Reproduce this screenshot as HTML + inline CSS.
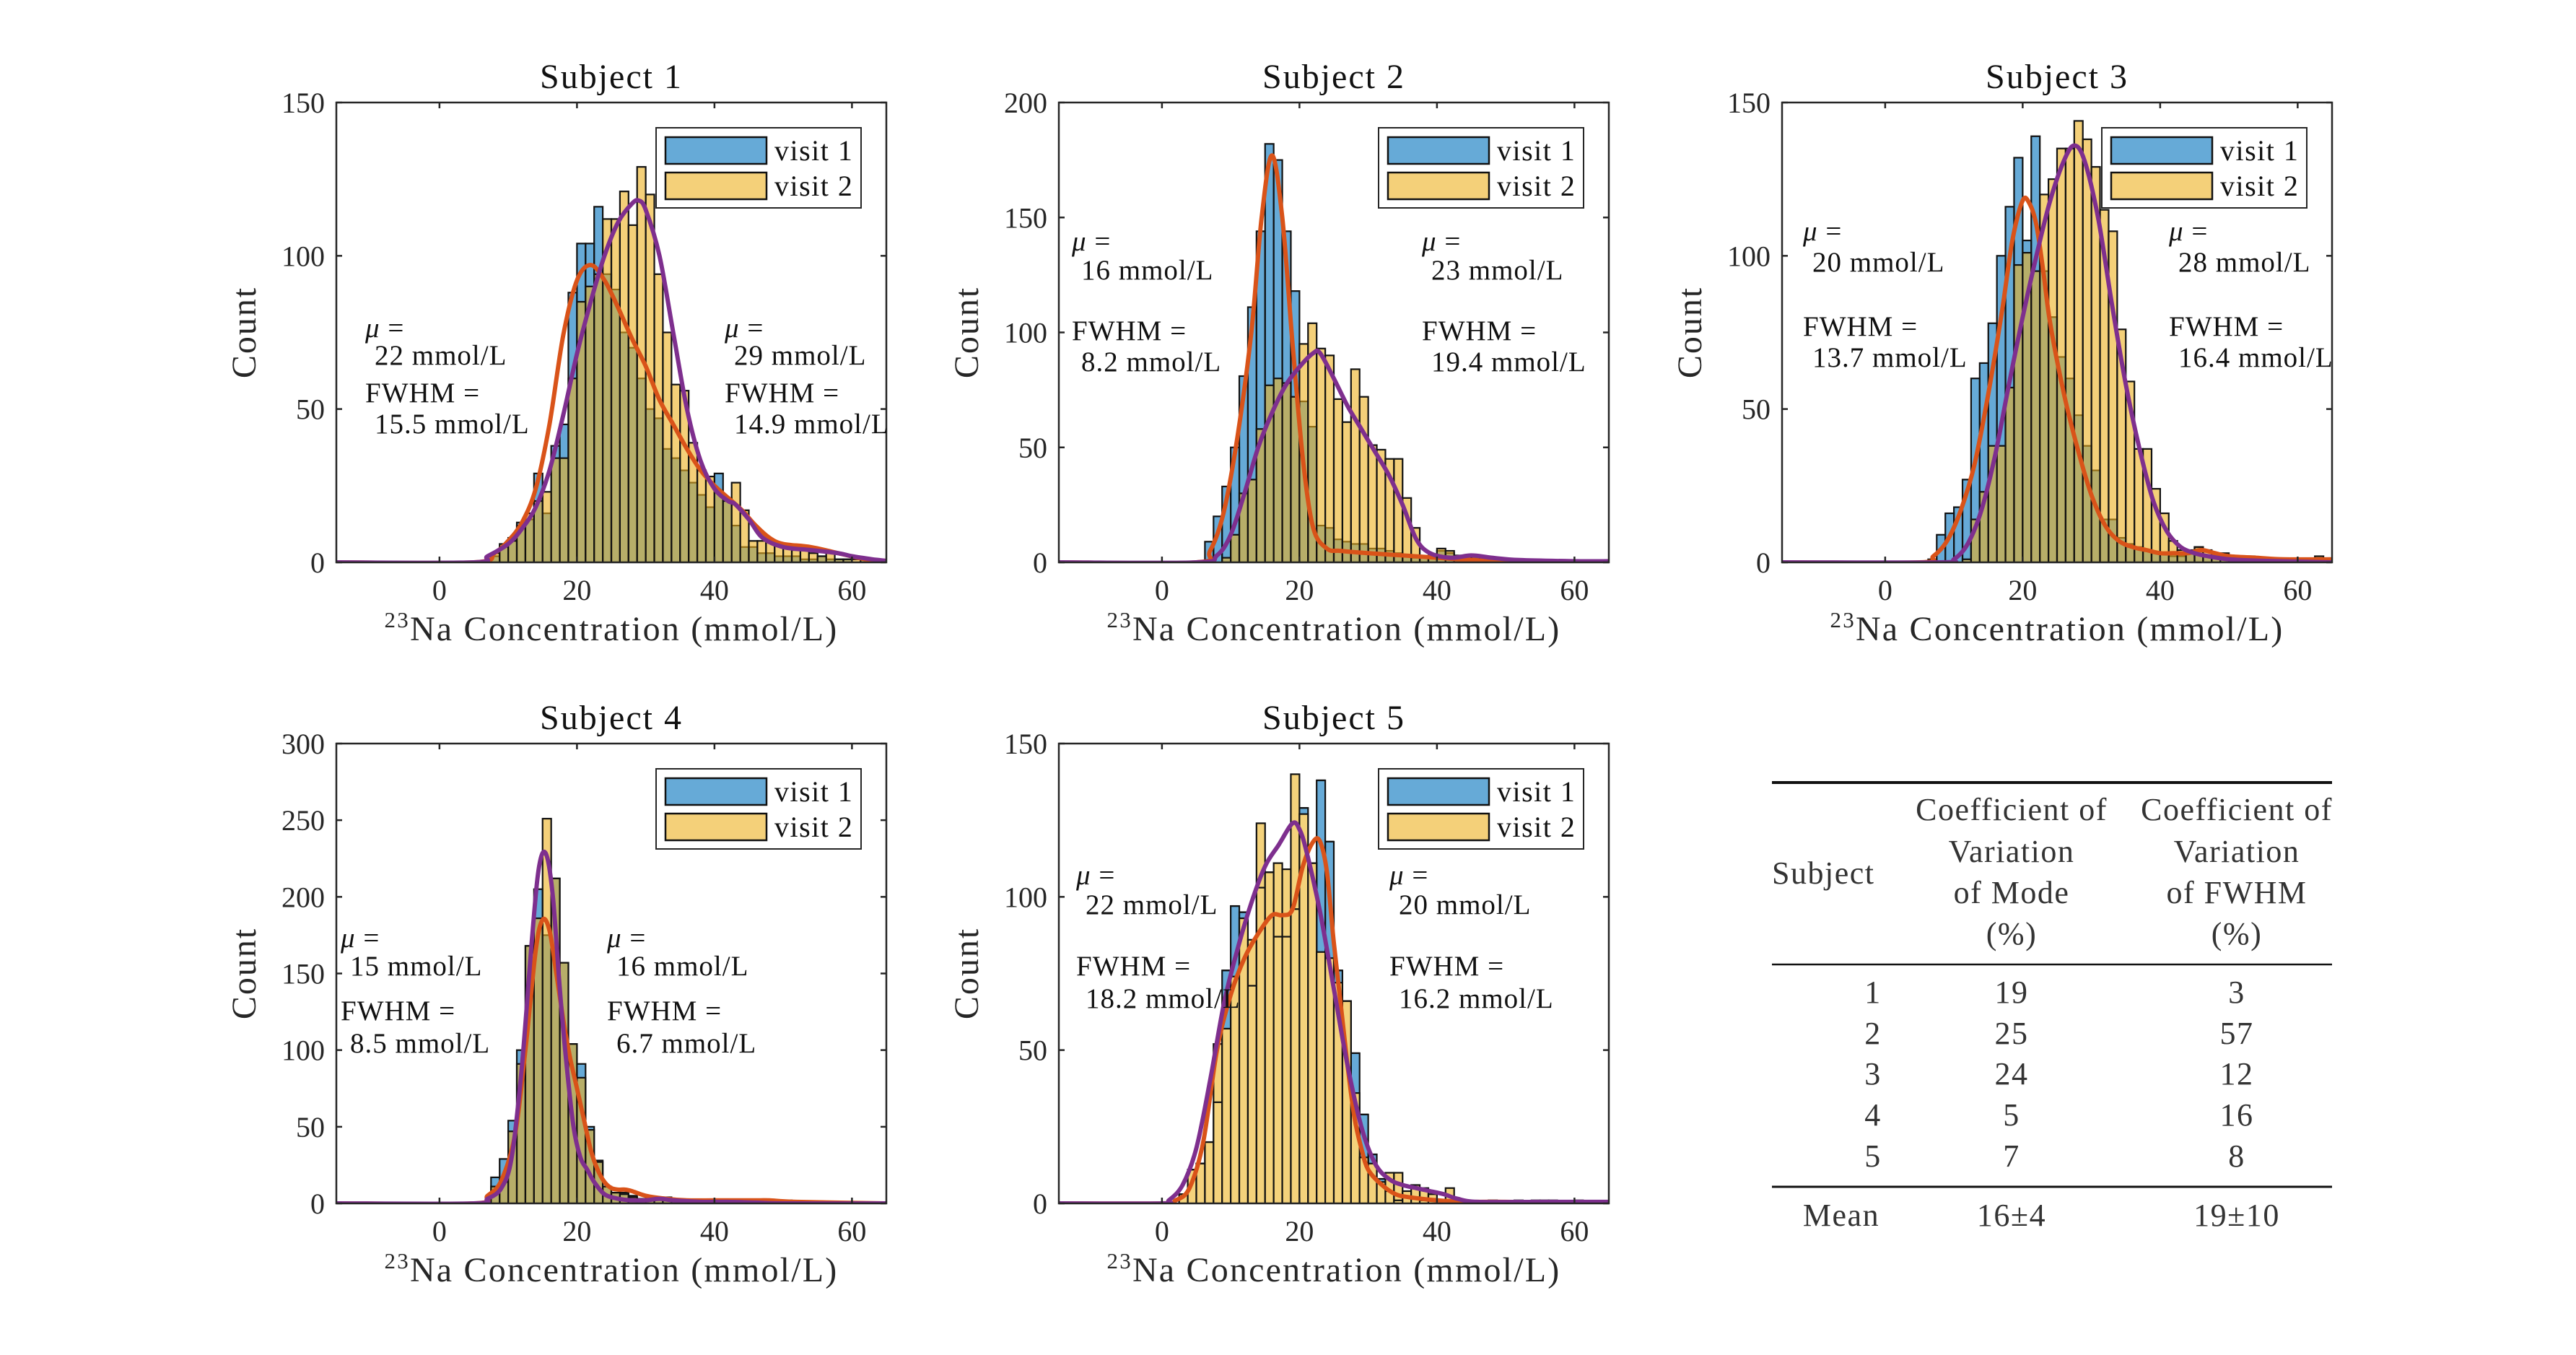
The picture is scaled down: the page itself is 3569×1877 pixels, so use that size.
<!DOCTYPE html>
<html><head><meta charset="utf-8"><style>
html,body{margin:0;padding:0;background:#fff;}
svg{display:block;font-family:"Liberation Serif",serif;}
</style></head><body>
<svg id="fig" width="3569" height="1877" viewBox="0 0 3569 1877" xmlns="http://www.w3.org/2000/svg">
<rect width="3569" height="1877" fill="#fff"/>
<g id="table" fill="#333" font-size="44" letter-spacing="1.5">
<line x1="2455" y1="1084" x2="3231" y2="1084" stroke="#111" stroke-width="4"/>
<line x1="2455" y1="1336" x2="3231" y2="1336" stroke="#111" stroke-width="2.5"/>
<line x1="2455" y1="1644" x2="3231" y2="1644" stroke="#111" stroke-width="3"/>
<text x="2455" y="1224">Subject</text>
<g text-anchor="middle">
<text x="2787" y="1136">Coefficient of</text><text x="2787" y="1194">Variation</text><text x="2787" y="1251">of Mode</text><text x="2787" y="1308">(%)</text></g>
<g text-anchor="middle">
<text x="3099" y="1136">Coefficient of</text><text x="3099" y="1194">Variation</text><text x="3099" y="1251">of FWHM</text><text x="3099" y="1308">(%)</text></g>
<g text-anchor="middle">
<text x="2595" y="1389">1</text><text x="2787" y="1389">19</text><text x="3099" y="1389">3</text>
<text x="2595" y="1446">2</text><text x="2787" y="1446">25</text><text x="3099" y="1446">57</text>
<text x="2595" y="1502">3</text><text x="2787" y="1502">24</text><text x="3099" y="1502">12</text>
<text x="2595" y="1559">4</text><text x="2787" y="1559">5</text><text x="3099" y="1559">16</text>
<text x="2595" y="1616">5</text><text x="2787" y="1616">7</text><text x="3099" y="1616">8</text>
<text x="2551" y="1698">Mean</text><text x="2787" y="1698">16±4</text><text x="3099" y="1698">19±10</text>
</g>
</g>
</svg>
<script>
const binWidth = 1.25;
const s1Visit1Start = 7.5;
const s1Visit1 = [2,5,8,13,14,29,16,38,45,88,104,104,116,94,89,75,70,60,50,47,37,34,30,26,22,18,29,21,12,5,5,3,3,2,2,2,1,1,2,1,1,1,0,1];
const s1Visit2Start = 7.5;
const s1Visit2 = [3,6,7,12,16,20,23,34,34,60,85,90,94,112,112,121,110,129,120,94,75,58,56,39,30,28,23,20,26,17,7,7,7,6,5,4,4,3,2,3,1,1,1,1];
const s2Visit1Start = 6.25;
const s2Visit1 = [9,20,33,50,81,111,144,182,175,144,118,70,59,16,15,10,9,8,8,6,6,5,4,3,2,2,2,5,4,2,2,2,1,1,1,1,1,1,1,1,1,1,1,1,1,1];
const s2Visit2Start = 8.75;
const s2Visit2 = [2,12,30,36,58,77,80,78,72,95,104,93,90,71,61,84,72,51,49,45,45,28,15,2,3,6,5,3,3,3,2,2,1,1,1,1,1,1,1,1,1,1,1];
const s3Visit1Start = 6.25;
const s3Visit1 = [1,9,16,18,27,60,65,78,100,116,132,105,139,95,80,67,60,48,38,30,14,14,8,6,5,4,3,3,2,2,4,5,2,2,1,1,1,1,1,1,1,1];
const s3Visit2Start = 11.25;
const s3Visit2 = [1,14,23,38,38,57,97,101,95,120,125,135,135,144,138,129,115,108,76,59,37,37,24,16,7,4,3,5,4,3,3,2,2,2,1,1,1,1,1,1,1,2,1];
const s4Visit1Start = 7.5;
const s4Visit1 = [17,29,54,100,168,205,175,212,157,104,91,50,28,11,7,7,5,3,3,3,2,2,2,2,1,1,1,1,1,1,1,1,1,2,2,1,1,1,1,1];
const s4Visit2Start = 7.5;
const s4Visit2 = [11,14,47,91,168,186,251,212,157,104,82,48,27,11,7,6,4,3,3,4,4,3,2,2,2,2,1,1,1,1,1,1,1,1,1,1,1,1,1];
const s5Visit1Start = 2.5;
const s5Visit1 = [3,11,13,20,33,76,97,95,71,103,108,87,87,96,129,111,138,118,76,66,49,29,16,8,4,1,2,2,1,1,1,1,0,1];
const s5Visit2Start = 2.5;
const s5Visit2 = [3,11,13,20,52,57,74,93,86,124,108,111,109,140,127,111,82,80,72,66,36,15,13,7,10,10,4,6,5,3,1,5,1,0,0,0,1,0,0,1,0,1,1,1,0,0,1];

const s1Fit1X = [-15,5,8,10,12,14,16,18,20,22,24,26,28,30,32,34,36,38,40,42,44,46,48,50,54,58,62,65];
const s1Fit1Y = [0,0,3,7,13,24,45,74,92,97,92,83,73,64,53,45,37,30,25,21,17,12,8,6,5,3,1,0.5];
const s1Fit2X = [-15,5,7,10,12,14,16,18,20,22,24,26,28,29,30,32,34,36,38,40,42,43,45,47,50,54,58,60,63,65];
const s1Fit2Y = [0,0,2,6,11,18,30,48,68,85,100,111,117,118,115,100,75,50,33,24,20,19,14,8,5,4,3,2,1,0.5];
const s2Fit1X = [-15,5,7,9,11,13,14.5,16,17.5,19,20.5,22,24,26,30,35,40,45,50,65];
const s2Fit1Y = [0,0,5,22,55,100,150,177,150,95,45,15,6,5,4,3,2,1,0.5,0];
const s2Fit2X = [-15,5,8,10,12,14,16,18,20,22,23,25,27,29,31,33,35,37,39,42,45,48,52,60,65];
const s2Fit2Y = [0,0,3,12,30,50,65,77,85,91,91,80,68,58,48,38,25,10,4,2,3,2,1,0.5,0.5];
const s3Fit1X = [-15,5,7,9,11,13,15,17,18.5,20,21,22,23,24,26,28,30,32,34,36,38,40,42,44,46,48,50,54,58,65];
const s3Fit1Y = [0,0,2,7,17,32,55,82,105,118,117,110,95,78,55,37,22,12,7,5,4,3,3,3,4,3,2,1.5,1,1];
const s3Fit2X = [-15,8,10,12,14,16,18,20,22,24,26,27.5,29,31,33,35,37,39,41,43,45,47,50,55,65];
const s3Fit2Y = [0,0,1,6,17,35,58,80,100,118,131,136,131,112,84,58,37,20,10,5,3,2,1,0.5,0];
const s4Fit1X = [-15,5,7,9,11,12.5,14,15,16,17,18,19,20,21,22,23,24,25,26,27,28,30,33,36,40,43,46,48,52,65];
const s4Fit1Y = [0,0,5,15,45,100,165,185,178,150,120,95,75,55,35,22,14,10,9,9,8,5,3,2,2,2,2,2,1,0];
const s4Fit2X = [-15,5,7,9,10.5,12,13.5,14.5,15.5,16.5,17.5,18.5,19.5,20.5,21.5,22.5,24,26,28,30,32,34,38,42,46,50,65];
const s4Fit2Y = [0,0,3,10,30,90,175,220,228,200,140,90,50,30,22,14,6,3,2,2,3,2,1,1,0.5,0,0];
const s5Fit1X = [-15,0,2,4,6,8,10,12,14,16,17.5,19,20.5,22,23,24,25,26,27,28,29,30,32,34,36,40,44,50,65];
const s5Fit1Y = [0,0,1,5,20,50,68,80,88,94,94,96,110,118,118,108,85,65,45,28,18,11,6,3,2,1,0.5,0.5,0];
const s5Fit2X = [-15,0,1,3,5,7,9,11,13,15,17,19,20,21,23,25,27,29,31,33,35,37,39,41,43,46,55,65];
const s5Fit2Y = [0,0,1,6,18,40,65,83,98,110,117,124,122,115,95,70,45,25,13,8,6,5,4,3,1.5,0.5,0.5,0.5];

const xTicks = [0,20,40,60];
const yTicks150 = [0,50,100,150];
const yTicks200 = [0,50,100,150,200];
const yTicks300 = [0,50,100,150,200,250,300];

const s1Notes = ["22 mmol/L","15.5 mmol/L","29 mmol/L","14.9 mmol/L"];
const s2Notes = ["16 mmol/L","8.2 mmol/L","23 mmol/L","19.4 mmol/L"];
const s3Notes = ["20 mmol/L","13.7 mmol/L","28 mmol/L","16.4 mmol/L"];
const s4Notes = ["15 mmol/L","8.5 mmol/L","16 mmol/L","6.7 mmol/L"];
const s5Notes = ["22 mmol/L","18.2 mmol/L","20 mmol/L","16.2 mmol/L"];

const panels = [
 {n:1,L:466,T:142,ymax:150,yt:yTicks150,v1:s1Visit1,v1s:s1Visit1Start,v2:s1Visit2,v2s:s1Visit2Start,f1x:s1Fit1X,f1y:s1Fit1Y,f2x:s1Fit2X,f2y:s1Fit2Y,notes:s1Notes,nl:40,nr:538,nb:[325,363,415,458],opaque:false},
 {n:2,L:1467,T:142,ymax:200,yt:yTicks200,v1:s2Visit1,v1s:s2Visit1Start,v2:s2Visit2,v2s:s2Visit2Start,f1x:s2Fit1X,f1y:s2Fit1Y,f2x:s2Fit2X,f2y:s2Fit2Y,notes:s2Notes,nl:18,nr:503,nb:[205,245,329,372],opaque:false},
 {n:3,L:2469,T:142,ymax:150,yt:yTicks150,v1:s3Visit1,v1s:s3Visit1Start,v2:s3Visit2,v2s:s3Visit2Start,f1x:s3Fit1X,f1y:s3Fit1Y,f2x:s3Fit2X,f2y:s3Fit2Y,notes:s3Notes,nl:29,nr:536,nb:[191,234,323,366],opaque:false},
 {n:4,L:466,T:1030,ymax:300,yt:yTicks300,v1:s4Visit1,v1s:s4Visit1Start,v2:s4Visit2,v2s:s4Visit2Start,f1x:s4Fit1X,f1y:s4Fit1Y,f2x:s4Fit2X,f2y:s4Fit2Y,notes:s4Notes,nl:6,nr:375,nb:[282,321,383,428],opaque:false},
 {n:5,L:1467,T:1030,ymax:150,yt:yTicks150,v1:s5Visit1,v1s:s5Visit1Start,v2:s5Visit2,v2s:s5Visit2Start,f1x:s5Fit1X,f1y:s5Fit1Y,f2x:s5Fit2X,f2y:s5Fit2Y,notes:s5Notes,nl:24,nr:458,nb:[195,236,321,366],opaque:true}
];
const W = 762, H = 637, XMIN = -15, XMAX = 65;
const NS = "http://www.w3.org/2000/svg";
const svg = document.getElementById('fig');
function mk(tag, attrs, parent){
  const e = document.createElementNS(NS, tag);
  for (const k in attrs) e.setAttribute(k, attrs[k]);
  parent.appendChild(e); return e;
}
function smoothPath(px, py){
  let d = "M" + px[0].toFixed(1) + "," + py[0].toFixed(1);
  for (let i = 0; i < px.length - 1; i++){
    const x0 = px[Math.max(0,i-1)], y0 = py[Math.max(0,i-1)];
    const x1 = px[i], y1 = py[i], x2 = px[i+1], y2 = py[i+1];
    const x3 = px[Math.min(px.length-1,i+2)], y3 = py[Math.min(px.length-1,i+2)];
    const c1x = x1 + (x2-x0)/6, c1y = y1 + (y2-y0)/6;
    const c2x = x2 - (x3-x1)/6, c2y = y2 - (y3-y1)/6;
    d += " C" + c1x.toFixed(1)+","+c1y.toFixed(1)+" "+c2x.toFixed(1)+","+c2y.toFixed(1)+" "+x2.toFixed(1)+","+y2.toFixed(1);
  }
  return d;
}
panels.forEach(p => {
  const L = p.L, T = p.T, B = T + H, R = L + W;
  const xs = v => L + (v - XMIN) / (XMAX - XMIN) * W;
  const ys = c => B - c / p.ymax * H;
  const g = mk('g', {}, svg);
  
  
  const cp = mk('clipPath', {id:'clip'+p.n}, g);
  mk('rect', {x:L, y:T, width:W, height:H}, cp);
  const plot = mk('g', {'clip-path':'url(#clip'+p.n+')'}, g);
  const g1 = mk('g', {}, plot);
  
  
  p.v1.forEach((c, i) => {
    if (c <= 0) return;
    const x0 = xs(p.v1s + i*binWidth), x1 = xs(p.v1s + (i+1)*binWidth);
    const r = mk('rect', {x:x0, y:ys(c), width:x1-x0, height:B-ys(c), fill:'#0072bd', 'fill-opacity':0.6, stroke:'#111', 'stroke-width':2.2}, g1);
    
    
  });
  const g2 = mk('g', {}, plot);
  
  
  p.v2.forEach((c, i) => {
    if (c <= 0) return;
    const x0 = xs(p.v2s + i*binWidth), x1 = xs(p.v2s + (i+1)*binWidth);
    const r = mk('rect', {x:x0, y:ys(c), width:x1-x0, height:B-ys(c), fill: p.opaque ? '#f4d27b' : '#edb120', 'fill-opacity': p.opaque ? 1 : 0.6, stroke:'#111', 'stroke-width':2.2}, g2);
    
    
  });
  if (p.opaque){
    p.v1.forEach((c, i) => {
      if (c <= 0) return;
      const x0 = xs(p.v1s + i*binWidth), x1 = xs(p.v1s + (i+1)*binWidth);
      const l = mk('path', {d:'M'+x0+','+ys(c)+'H'+x1, stroke:'#111', 'stroke-width':2.2, fill:'none'}, g2);
      
      
    });
  }
  const c1 = mk('path', {d:smoothPath(p.f1x.map(xs), p.f1y.map(ys)), fill:'none', stroke:'#d95319', 'stroke-width':6, 'stroke-linejoin':'round'}, plot);
  
  
  const c2 = mk('path', {d:smoothPath(p.f2x.map(xs), p.f2y.map(ys)), fill:'none', stroke:'#7e2f8e', 'stroke-width':6, 'stroke-linejoin':'round'}, plot);
  
  
  const box = mk('rect', {x:L, y:T, width:W, height:H, fill:'none', stroke:'#262626', 'stroke-width':2.5}, g);
  
  
  xTicks.forEach(t => {
    const x = xs(t);
    const tk = mk('path', {d:'M'+x+','+B+'v-8M'+x+','+T+'v8', stroke:'#262626', 'stroke-width':2.5}, g);
    
    
    const tl = mk('text', {x:x, y:B+52, 'text-anchor':'middle', 'font-size':40, fill:'#262626'}, g);
    tl.textContent = t;
    
    
  });
  p.yt.forEach(t => {
    const y = ys(t);
    const tk = mk('path', {d:'M'+L+','+y+'h8M'+R+','+y+'h-8', stroke:'#262626', 'stroke-width':2.5}, g);
    
    
    const tl = mk('text', {x:L-16, y:y+14, 'text-anchor':'end', 'font-size':40, fill:'#262626'}, g);
    tl.textContent = t;
    
    
  });
  const title = mk('text', {x:L+W/2, y:T-20, 'text-anchor':'middle', 'font-size':48, 'letter-spacing':2, fill:'#111'}, g);
  title.textContent = 'Subject ' + p.n;
  
  
  const xl = mk('text', {x:L+W/2, y:B+108, 'text-anchor':'middle', 'font-size':48, 'letter-spacing':2.2, fill:'#262626'}, g);
  xl.innerHTML = '<tspan font-size="31" dy="-18">23</tspan><tspan dy="18">Na Concentration (mmol/L)</tspan>';
  
  
  const yl = mk('text', {x:0, y:0, 'text-anchor':'middle', 'font-size':48, 'letter-spacing':2, fill:'#262626', transform:'translate('+(L-112)+','+(T+H/2)+') rotate(-90)'}, g);
  yl.textContent = 'Count';
  
  
  const labels = [['μ =', p.nl, p.nb[0], true], [p.notes[0], p.nl+13, p.nb[1], false], ['FWHM =', p.nl, p.nb[2], false], [p.notes[1], p.nl+13, p.nb[3], false],
                  ['μ =', p.nr, p.nb[0], true], [p.notes[2], p.nr+13, p.nb[1], false], ['FWHM =', p.nr, p.nb[2], false], [p.notes[3], p.nr+13, p.nb[3], false]];
  labels.forEach(a => {
    const t = mk('text', {x:L+a[1], y:T+a[2], 'font-size':39, 'letter-spacing':1, fill:'#111'}, g);
    if (a[3]) t.innerHTML = '<tspan font-style="italic">μ</tspan> =';
    else t.textContent = a[0];
    
    
  });
  const lg = mk('g', {}, g);
  
  
  mk('rect', {x:R-319, y:T+35, width:284, height:111, fill:'#fff', stroke:'#262626', 'stroke-width':2}, lg);
  mk('rect', {x:R-306, y:T+48, width:140, height:37, fill:'#0072bd', 'fill-opacity':0.6, stroke:'#111', 'stroke-width':2.5}, lg);
  mk('rect', {x:R-306, y:T+97, width:140, height:37, fill:'#edb120', 'fill-opacity':0.6, stroke:'#111', 'stroke-width':2.5}, lg);
  const t1 = mk('text', {x:R-155, y:T+80, 'font-size':40, 'letter-spacing':1.5, fill:'#111'}, lg);
  t1.textContent = 'visit 1';
  
  
  const t2 = mk('text', {x:R-155, y:T+129, 'font-size':40, 'letter-spacing':1.5, fill:'#111'}, lg);
  t2.textContent = 'visit 2';
  
  
});
</script>
</body></html>
